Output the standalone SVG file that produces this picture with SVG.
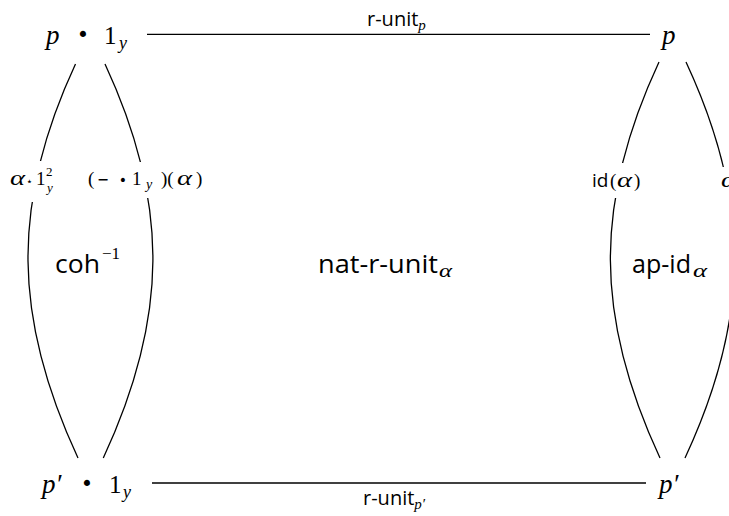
<svg xmlns="http://www.w3.org/2000/svg" width="729" height="516" viewBox="0 0 729 516">
<style>
.edge{fill:none;stroke:#000;stroke-width:1.3}
.m{font-family:"Liberation Serif","DejaVu Serif",serif;font-style:italic;fill:#000}
.r{font-family:"Liberation Serif","DejaVu Serif",serif;font-style:normal}
.s{font-family:"Open Sans","DejaVu Sans",sans-serif;font-style:normal;fill:#000}
.dot{font-family:"DejaVu Sans",sans-serif;font-style:normal;fill:#000}
.bg{fill:#fff}
</style>
<rect width="729" height="516" fill="#fff"/>
<g id="connectors">
<path class="edge" d="M147,34.3 H650"/>
<path class="edge" d="M152,483 H646"/>
<path class="edge" d="M75.5,64 C10.5,203.6 13,318.4 78,458"/>
<path class="edge" d="M105,64 C170,203.6 168.3,318.4 103.3,458"/>
<path class="edge" d="M659,62 C593.5,202.5 594.5,317.5 660,458"/>
<path class="edge" d="M686,62 C751.5,202.5 750.5,317.5 685,458"/>
<rect class="bg" x="5" y="161" width="58" height="41"/>
<rect class="bg" x="84" y="162" width="124" height="36"/>
<rect class="bg" x="588" y="163" width="57" height="35"/>
<rect class="bg" x="716" y="167" width="20" height="33"/>
<text class="s" x="367" y="26" font-size="20">r-unit<tspan class="m" font-size="15" y="30">p</tspan></text>
<text class="s" x="363" y="505" font-size="20">r-unit<tspan class="m" font-size="15" y="509">p′</tspan></text>
<text class="m" x="10" y="185" font-size="20" textLength="15" lengthAdjust="spacingAndGlyphs">α</text>
<text class="dot" x="29.5" y="185" font-size="11" text-anchor="middle">⋆</text>
<text class="r" x="36" y="185" font-size="19">1</text>
<text class="r" x="46" y="176" font-size="13">2</text>
<text class="m" x="47" y="192" font-size="13">y</text>
<text class="r" x="88" y="185" font-size="19">(</text>
<text class="dot" x="97" y="185" font-size="17" textLength="12" lengthAdjust="spacingAndGlyphs">−</text>
<text class="dot" x="123" y="185" font-size="14" text-anchor="middle">•</text>
<text class="r" x="132" y="185" font-size="19">1</text>
<text class="m" x="146" y="189" font-size="14">y</text>
<text class="r" x="161" y="185" font-size="19">)(</text>
<text class="m" x="177" y="185" font-size="20" textLength="15" lengthAdjust="spacingAndGlyphs">α</text>
<text class="r" x="196" y="185" font-size="19">)</text>
<text class="s" x="592" y="187" font-size="19">id</text>
<text class="r" x="610" y="187" font-size="19">(</text>
<text class="m" x="617" y="187" font-size="20" textLength="15" lengthAdjust="spacingAndGlyphs">α</text>
<text class="r" x="634" y="187" font-size="19">)</text>
<text class="m" x="721" y="187" font-size="20" textLength="15" lengthAdjust="spacingAndGlyphs">α</text>
</g>
<g id="n-tl">
<text class="m" x="46" y="44" font-size="27">p</text>
<text class="dot" x="83" y="42" font-size="21" text-anchor="middle">•</text>
<text class="r" x="104" y="44" font-size="25">1</text>
<text class="m" x="119" y="49" font-size="18">y</text>
</g>
<g id="n-tr">
<text class="m" x="662" y="44" font-size="27">p</text>
</g>
<g id="n-bl">
<text class="m" x="42" y="493" font-size="27">p′</text>
<text class="dot" x="87" y="490.5" font-size="21" text-anchor="middle">•</text>
<text class="r" x="109" y="493" font-size="25">1</text>
<text class="m" x="123" y="498" font-size="18">y</text>
</g>
<g id="n-br">
<text class="m" x="659" y="493" font-size="27">p′</text>
</g>
<g id="cell-coh">
<text class="s" x="55" y="273" font-size="26" textLength="45" lengthAdjust="spacingAndGlyphs">coh</text>
<text class="r" x="102" y="259" font-size="17">−1</text>
</g>
<g id="cell-nat">
<text class="s" x="318" y="273" font-size="26" textLength="120" lengthAdjust="spacingAndGlyphs">nat-r-unit</text>
<text class="m" x="439" y="277" font-size="19" textLength="13" lengthAdjust="spacingAndGlyphs">α</text>
</g>
<g id="cell-apid">
<text class="s" x="632" y="273" font-size="26" textLength="59" lengthAdjust="spacingAndGlyphs">ap-id</text>
<text class="m" x="693" y="277" font-size="19" textLength="14" lengthAdjust="spacingAndGlyphs">α</text>
</g>
</svg>
